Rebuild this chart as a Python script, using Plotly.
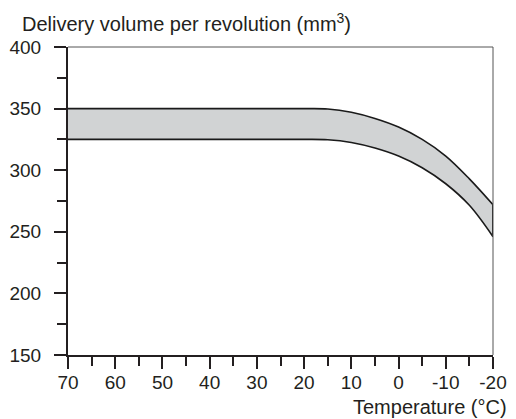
import plotly.graph_objects as go

temps = [70, 60, 50, 40, 30, 20, 15, 10, 5, 0, -5, -10, -15, -20]
upper = [350, 350, 350, 350, 350, 350, 349.7, 347, 342, 335, 325, 311.5, 293, 272]
lower = [325, 325, 325, 325, 325, 325, 324.7, 322.5, 318, 311.5, 302, 289, 271.5, 246]

x_ticks = [70, 60, 50, 40, 30, 20, 10, 0, -10, -20]
y_ticks = [150, 200, 250, 300, 350, 400]

FONT = "Liberation Sans, Arial, sans-serif"
INK = "#231f20"

fig = go.Figure()
fig.add_trace(go.Scatter(x=temps, y=lower, mode="lines",
                         line=dict(color="#1a1a1a", width=1.6, shape="spline", smoothing=1),
                         showlegend=False, hoverinfo="skip"))
fig.add_trace(go.Scatter(x=temps, y=upper, mode="lines", fill="tonexty",
                         fillcolor="#d1d3d4",
                         line=dict(color="#1a1a1a", width=1.6, shape="spline", smoothing=1),
                         showlegend=False, hoverinfo="skip"))
fig.add_trace(go.Scatter(x=[temps[-1], temps[-1]], y=[lower[-1], upper[-1]], mode="lines",
                         line=dict(color="#1a1a1a", width=2),
                         showlegend=False, hoverinfo="skip"))

fig.update_layout(
    width=516, height=419,
    margin=dict(l=68, r=23, t=47, b=64, autoexpand=False),
    paper_bgcolor="white", plot_bgcolor="white",
    font=dict(family=FONT, size=19, color=INK),
    hovermode=False,
    shapes=[
        dict(type="line", xref="paper", yref="paper", x0=0, x1=1, y0=1, y1=1,
             line=dict(color="#555555", width=1)),
        dict(type="line", xref="paper", yref="paper", x0=1, x1=1, y0=0, y1=1,
             line=dict(color="#555555", width=1)),
    ],
    annotations=[
        dict(text="Delivery volume per revolution (mm<sup>3</sup>)", xref="paper", yref="paper",
             x=-48/425, y=1 + 24/308, xanchor="left", yanchor="middle", showarrow=False,
             font=dict(family=FONT, size=20, color=INK)),
        dict(text="Temperature (°C)", xref="paper", yref="paper",
             x=1 + 16/425, y=-52/308, xanchor="right", yanchor="middle", showarrow=False,
             font=dict(family=FONT, size=20, color=INK)),
    ],
)

fig.update_xaxes(
    range=[70, -20], tickvals=x_ticks, ticktext=[str(v) for v in x_ticks],
    showgrid=False, zeroline=False,
    showline=True, linecolor=INK, linewidth=2,
    ticks="outside", ticklen=12, tickwidth=2, tickcolor=INK,
    ticklabelstandoff=-3,
    minor=dict(dtick=5, tick0=0, ticks="outside", ticklen=9, tickwidth=2, tickcolor=INK, showgrid=False),
)
fig.update_yaxes(
    range=[150, 400], tickvals=y_ticks, ticktext=[str(v) for v in y_ticks],
    showgrid=False, zeroline=False,
    showline=True, linecolor=INK, linewidth=2,
    ticks="outside", ticklen=12, tickwidth=2, tickcolor=INK,
    ticklabelstandoff=9,
    minor=dict(dtick=25, tick0=0, ticks="outside", ticklen=9, tickwidth=2, tickcolor=INK, showgrid=False),
)

fig.write_html("out.html", config={"displayModeBar": False},
               post_script="document.body.style.margin='0';")
